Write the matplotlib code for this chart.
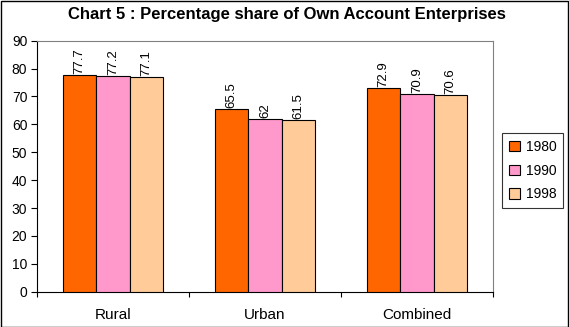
import matplotlib
matplotlib.use("Agg")
import matplotlib.pyplot as plt
from matplotlib.patches import Rectangle
import numpy as np

categories = ["Rural", "Urban", "Combined"]
years = ["1980", "1990", "1998"]
values_1980 = [77.7, 65.5, 72.9]
values_1990 = [77.2, 62, 70.9]
values_1998 = [77.1, 61.5, 70.6]
colors = ["#FF6600", "#FF99CC", "#FFCC99"]
y_ticks = list(range(0, 91, 10))

plt.rcParams["font.family"] = ["Liberation Sans", "DejaVu Sans"]

W, H, DPI = 569, 327, 100
fig = plt.figure(figsize=(W / DPI, H / DPI), dpi=DPI)
fig.patch.set_facecolor("white")

# plot area in pixel coordinates
left, right, top, bottom = 37, 493, 40.7, 291.7
ax = fig.add_axes([left / W, 1 - bottom / H, (right - left) / W, (bottom - top) / H])

series = [values_1980, values_1990, values_1998]
bw = 0.22
x = np.arange(len(categories))
for i, (vals, col) in enumerate(zip(series, colors)):
    pos = x + (i - 1) * bw
    ax.bar(pos, vals, width=bw, color=col, edgecolor="black", linewidth=0.8,
           label=years[i], zorder=3)
    for p, v in zip(pos, vals):
        ax.text(p, v + 0.4, f"{v:g}", rotation=90, ha="center", va="bottom",
                fontsize=9.5, color="black")

ax.set_xlim(-0.5, 2.5)
ax.set_ylim(0, 90)
ax.set_yticks(y_ticks)
ax.set_yticklabels([str(t) for t in y_ticks], fontsize=10)
ax.set_xticks(x)
ax.set_xticklabels(categories, fontsize=11)
ax.set_xticks([-0.5, 0.5, 1.5, 2.5], minor=True)
ax.tick_params(axis="x", which="major", length=0, pad=12)
ax.tick_params(axis="x", which="minor", length=3.6, width=0.8, direction="out")
ax.tick_params(axis="y", length=4, width=0.8, direction="out", pad=3)

for s in ["left", "bottom"]:
    ax.spines[s].set_color("black")
    ax.spines[s].set_linewidth(0.8)
for s in ["top", "right"]:
    ax.spines[s].set_color("#808080")
    ax.spines[s].set_linewidth(0.8)

fig.text(287 / W, 1 - 15 / H, "Chart 5 : Percentage share of Own Account Enterprises",
         ha="center", va="center", fontsize=12, fontweight="bold")

handles, labels = ax.get_legend_handles_labels()
leg = fig.legend(handles, labels, loc="upper left",
                 bbox_to_anchor=(502 / W, 1 - 133 / H), fontsize=10,
                 frameon=True, fancybox=False, edgecolor="black",
                 handlelength=0.8, handleheight=0.8, handletextpad=0.4,
                 borderpad=0.5, labelspacing=0.7, borderaxespad=0)
leg.get_frame().set_linewidth(0.8)

# outer figure border
fig.patches.append(Rectangle((0.5 / W, 0.5 / H), 1 - 1.5 / W, 1 - 1.5 / H,
                             transform=fig.transFigure, fill=False,
                             edgecolor="black", linewidth=1.0))

fig.savefig("out.png", dpi=DPI)
